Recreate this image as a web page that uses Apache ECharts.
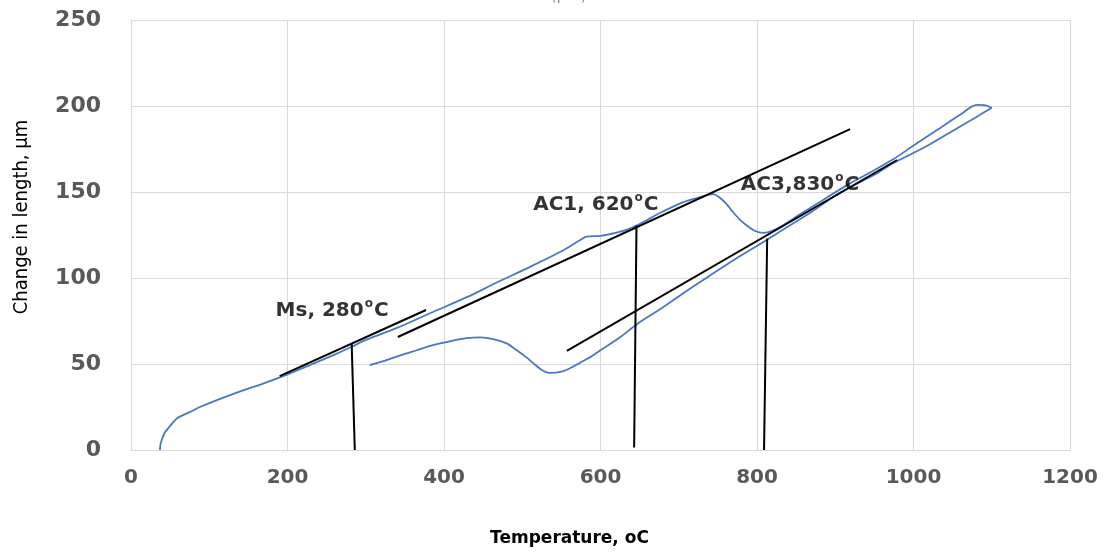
<!DOCTYPE html>
<html>
<head>
<meta charset="utf-8">
<script src="https://cdn.jsdelivr.net/npm/echarts@6/dist/echarts.min.js"></script>
<style>
  html, body { margin: 0; padding: 0; background: #fff; }
  #main { width: 1108px; height: 554px; }
</style>
</head>
<body>
<div id="main"></div>
<script>
// heating run: [temperature, change in length]
var heating = [
  [37, 0], [38, 4], [43, 10], [50, 14], [59, 18.5], [75, 22], [88, 25],
  [130, 32.5], [174, 39.5], [200, 44], [258, 55], [282, 60], [300, 64],
  [340, 71], [382, 79.5], [430, 89], [468, 97.5], [510, 106.5], [552, 116],
  [572, 121.5], [582, 124], [600, 124.5], [612, 125.5], [630, 127.5],
  [646, 130.5], [676, 137.8], [705, 144], [727, 147], [744, 148.8],
  [753, 146.5], [762, 142.5], [769, 138.5], [778, 134], [787, 130.5],
  [797, 127.5], [808, 126.2], [820, 127.5], [833, 130.5], [855, 137],
  [885, 145.5], [915, 154], [945, 161.5], [974, 169], [1000, 177],
  [1030, 186], [1060, 195], [1081, 200.6], [1092, 200.4], [1100, 199]
];
// cooling run back from 1100
var cooling = [
  [1100, 199], [1080, 193.5], [1050, 185.5], [1020, 177.5], [999, 172.5],
  [975, 167], [950, 160], [920, 153], [897, 147], [870, 138.5], [833, 128],
  [812, 122], [774, 111.5], [740, 101.5], [710, 92.5], [680, 83],
  [646, 73], [625, 65.5], [600, 58], [583, 53], [565, 48.5], [550, 45.5],
  [535, 44.8], [525, 46.5], [514, 50.5], [505, 54], [493, 58], [480, 62],
  [463, 64.5], [446, 65.5], [429, 65], [410, 63.5], [386, 61], [365, 58],
  [344, 55], [325, 52], [305, 49.4]
];
// construction lines
var msTangent = [[190, 43], [377, 81.4]];
var msDrop = [[282, 62], [286, 0]];
var ac1Tangent = [[341, 65.7], [919, 186.6]];
var ac1Drop = [[646, 130.5], [643, 1.5]];
var ac3Tangent = [[557, 57.6], [979, 168.6]];
var ac3Drop = [[813, 123], [809, 0]];
// annotation labels
var labelNames = ['Ms, 280', 'AC1, 620', 'AC3,830'];
var labelAt = [[257, 80.8], [594, 142.4], [855, 154]];
var xTicks = [0, 200, 400, 600, 800, 1000, 1200];
var yTicks = [0, 50, 100, 150, 200, 250];

var myChart = echarts.init(document.getElementById('main'));

function blackLine(d) {
  return {
    type: 'line',
    data: d,
    showSymbol: false,
    symbol: 'none',
    silent: true,
    lineStyle: { color: '#000', width: 2 },
    z: 3
  };
}

var labelData = labelNames.map(function (n, i) {
  return { value: labelAt[i], name: n };
});

myChart.setOption({
  animation: false,
  title: {
    text: 'Dilation(µm)',
    left: 488,
    top: -16,
    textStyle: { color: '#8c8c8c', fontSize: 15, fontWeight: 'normal', fontFamily: 'DejaVu Sans' }
  },
  grid: {
    left: 131, right: 38, top: 20, bottom: 104,
    containLabel: false,
    outerBoundsMode: 'none'
  },
  xAxis: {
    type: 'value',
    min: xTicks[0],
    max: xTicks[xTicks.length - 1],
    interval: 200,
    name: 'Temperature, oC',
    nameLocation: 'middle',
    nameGap: 80,
    nameTextStyle: {
      color: '#000',
      fontFamily: 'DejaVu Sans',
      fontWeight: 'bold',
      fontSize: 17,
      padding: [0, 62, 0, 0]
    },
    axisLine: { show: true, lineStyle: { color: '#d9d9d9' } },
    axisTick: { show: false },
    splitLine: { show: true, lineStyle: { color: '#d9d9d9', width: 1 } },
    axisLabel: {
      color: '#595959',
      fontFamily: 'DejaVu Sans',
      fontWeight: 'bold',
      fontSize: 20,
      margin: 18,
      formatter: function (v) { return String(v); }
    }
  },
  yAxis: {
    type: 'value',
    min: yTicks[0],
    max: yTicks[yTicks.length - 1],
    interval: 50,
    name: 'Change in length, µm',
    nameLocation: 'middle',
    nameRotate: 90,
    nameGap: 99,
    nameTextStyle: {
      color: '#000',
      fontFamily: 'Liberation Sans Narrow, DejaVu Sans Condensed, sans-serif',
      fontSize: 20,
      padding: [0, 0, 0, 36]
    },
    axisLine: { show: true, lineStyle: { color: '#d9d9d9' } },
    axisTick: { show: false },
    splitLine: { show: true, lineStyle: { color: '#d9d9d9', width: 1 } },
    axisLabel: {
      color: '#595959',
      fontFamily: 'DejaVu Sans',
      fontWeight: 'bold',
      fontSize: 22,
      margin: 30,
      formatter: function (v) { return String(v); }
    }
  },
  series: [
    {
      name: 'heating',
      type: 'line',
      data: heating,
      showSymbol: false,
      smooth: 0.3,
      lineStyle: { color: '#4a76c2', width: 1.8 },
      z: 2
    },
    {
      name: 'cooling',
      type: 'line',
      data: cooling,
      showSymbol: false,
      smooth: 0.3,
      lineStyle: { color: '#4a76c2', width: 1.8 },
      z: 2
    },
    blackLine(msTangent),
    blackLine(msDrop),
    blackLine(ac1Tangent),
    blackLine(ac1Drop),
    blackLine(ac3Tangent),
    blackLine(ac3Drop),
    {
      type: 'scatter',
      data: labelData,
      symbolSize: 0,
      silent: true,
      z: 5,
      label: {
        show: true,
        position: 'inside',
        formatter: function (p) { return '{a|' + p.name + '}{s|o}{a|C}'; },
        rich: {
          a: { fontFamily: 'DejaVu Sans', fontWeight: 'bold', fontSize: 20, color: '#000', lineHeight: 26 },
          s: { fontFamily: 'DejaVu Sans', fontWeight: 'bold', fontSize: 12, color: '#000', lineHeight: 13, verticalAlign: 'top', padding: [0, 1, 0, 1] }
        }
      }
    }
  ]
});

window.addEventListener('resize', function () { myChart.resize(); });
</script>
</body>
</html>
